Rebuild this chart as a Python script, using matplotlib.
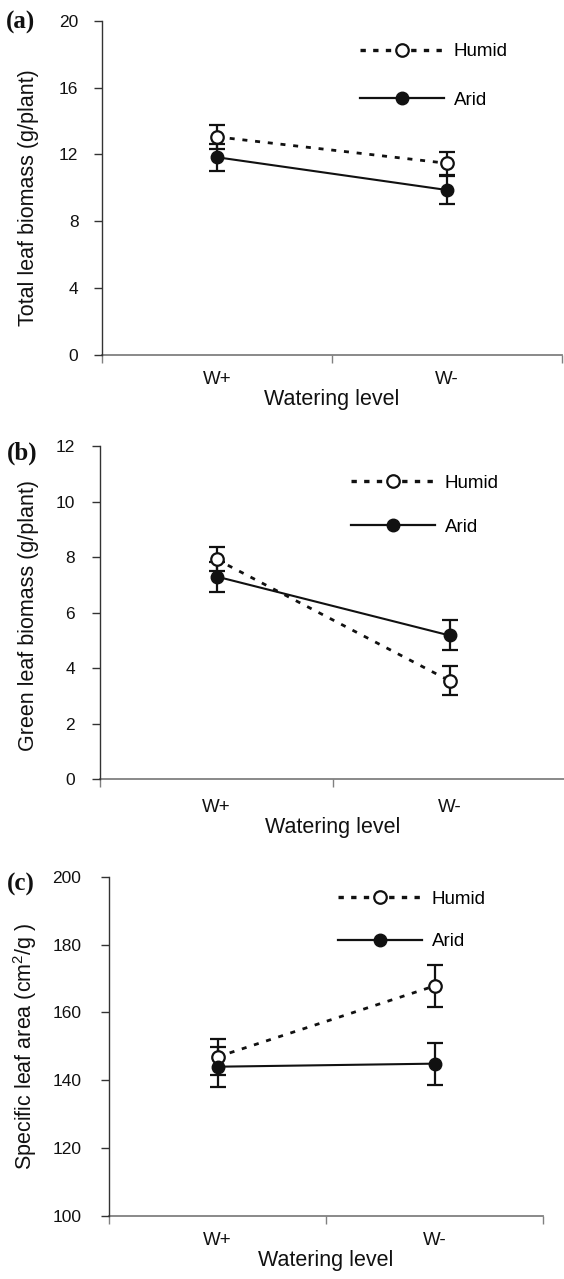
import matplotlib
matplotlib.use("Agg")
import matplotlib.pyplot as plt
from matplotlib.lines import Line2D

plt.rcParams['font.family'] = ['Liberation Sans', 'DejaVu Sans']
plt.rcParams['mathtext.default'] = 'regular'

# ---- data ----
levels = ["W+", "W-"]
series = ["Humid", "Arid"]

total_humid = [13.05, 11.47]
total_humid_err = [0.70, 0.70]
total_arid = [11.83, 9.87]
total_arid_err = [0.80, 0.84]

green_humid = [7.92, 3.55]
green_humid_err = [0.43, 0.52]
green_arid = [7.30, 5.18]
green_arid_err = [0.54, 0.54]

sla_humid = [146.9, 167.8]
sla_humid_err = [5.3, 6.1]
sla_arid = [144.0, 144.9]
sla_arid_err = [5.9, 6.2]

ylabels = ["Total leaf biomass (g/plant)",
           "Green leaf biomass (g/plant)",
           "Specific leaf area (cm$^{2}$/g )"]
panel_tags = ["(a)", "(b)", "(c)"]
ylims = [(0, 20), (0, 12), (100, 200)]
ysteps = [4, 2, 20]

W, H = 564, 1279
fig = plt.figure(figsize=(W / 100, H / 100), dpi=100)

# axes boxes in pixels: left, right, top, bottom
boxes = [(102, 562, 20.7, 355), (100, 566, 446, 779.3), (109, 543, 876.7, 1216)]
legend_px = [(360, 51.7, 100.0), (351, 483.3, 527.3), (338, 899, 941.7)]
tag_px = [(6, 22), (7, 453), (7, 884)]
ypads = [11, 12, 14]
xpads = [11.5, 14, 11.5]
ylab_pos = [0.47, 0.49, 0.50]

data = [(total_humid, total_humid_err, total_arid, total_arid_err),
        (green_humid, green_humid_err, green_arid, green_arid_err),
        (sla_humid, sla_humid_err, sla_arid, sla_arid_err)]

xpos = [0.5, 1.5]
dash = (0, (1.8, 2.8))
FS = 13.5
LFS = 15.5

for i, (l, r, t, b) in enumerate(boxes):
    ax = fig.add_axes([l / W, 1 - b / H, (r - l) / W, (b - t) / H])
    hum, hum_e, ari, ari_e = data[i]

    ax.errorbar(xpos, hum, yerr=hum_e, fmt='none', ecolor='#111111',
                elinewidth=1.6, capsize=6, capthick=1.6, zorder=2)
    ax.errorbar(xpos, ari, yerr=ari_e, fmt='none', ecolor='#111111',
                elinewidth=1.6, capsize=6, capthick=1.6, zorder=2)
    ax.plot(xpos, hum, color='#111111', lw=2.0, linestyle=dash,
            dash_capstyle='butt', zorder=3)
    ax.plot(xpos, hum, linestyle='none', marker='o', ms=9, mfc='white',
            mec='#111111', mew=1.6, zorder=4)
    ax.plot(xpos, ari, color='#111111', lw=1.5, marker='o', ms=9,
            mfc='#111111', mec='#111111', zorder=4)

    ax.set_xlim(0, 2)
    ax.set_ylim(*ylims[i])
    lo, hi = ylims[i]
    ax.set_yticks(list(range(lo, hi + 1, ysteps[i])))
    ax.set_xticks([0, 1, 2])
    ax.set_xticklabels([])
    ax.set_xticks(xpos, minor=True)
    ax.set_xticklabels(levels, minor=True, fontsize=FS, color='#111111')
    ax.tick_params(axis='x', which='major', direction='out', length=6,
                   width=1, color='#808080')
    ax.tick_params(axis='x', which='minor', length=0, pad=xpads[i])
    ax.tick_params(axis='y', direction='out', length=6, width=1,
                   color='#333333', labelsize=12.5, labelcolor='#111111',
                   pad=ypads[i])
    for s in ['top', 'right']:
        ax.spines[s].set_visible(False)
    ax.spines['left'].set_color('#333333')
    ax.spines['bottom'].set_color('#808080')
    ax.spines['left'].set_linewidth(1.0)
    ax.spines['bottom'].set_linewidth(1.3)
    ax.spines['bottom'].set_zorder(1)

    ax.set_xlabel("Watering level", fontsize=LFS, color='#111111',
                  labelpad=1)
    ax.set_ylabel(ylabels[i], fontsize=LFS, color='#111111')
    ax.yaxis.set_label_coords((39 - l) / (r - l), ylab_pos[i])

    # legend
    lx, y1, y2 = legend_px[i]
    handles = [Line2D([], [], color='#111111', lw=2.4, linestyle=(0, (1.6, 2.2)),
                      dash_capstyle='butt', marker='o', ms=9, mfc='white',
                      mec='#111111', mew=1.6),
               Line2D([], [], color='#111111', lw=1.6, marker='o', ms=9,
                      mfc='#111111', mec='#111111')]
    ymid = (y1 + y2) / 2
    fs_px = FS * 100 / 72
    labelspacing = ((y2 - y1) - 0.92 * fs_px) / fs_px
    ax.legend(handles, series, loc='center left', frameon=False,
              bbox_to_anchor=((lx - l) / (r - l), (b - ymid) / (b - t)),
              borderpad=0, borderaxespad=0, handlelength=4.5,
              handletextpad=0.5, labelspacing=labelspacing,
              fontsize=FS, numpoints=1)

    tx, ty = tag_px[i]
    fig.text(tx / W, 1 - ty / H, panel_tags[i], fontsize=18,
             fontweight='bold', family='Liberation Serif', ha='left',
             va='center', color='#111111')

fig.savefig("out.png", dpi=100)
